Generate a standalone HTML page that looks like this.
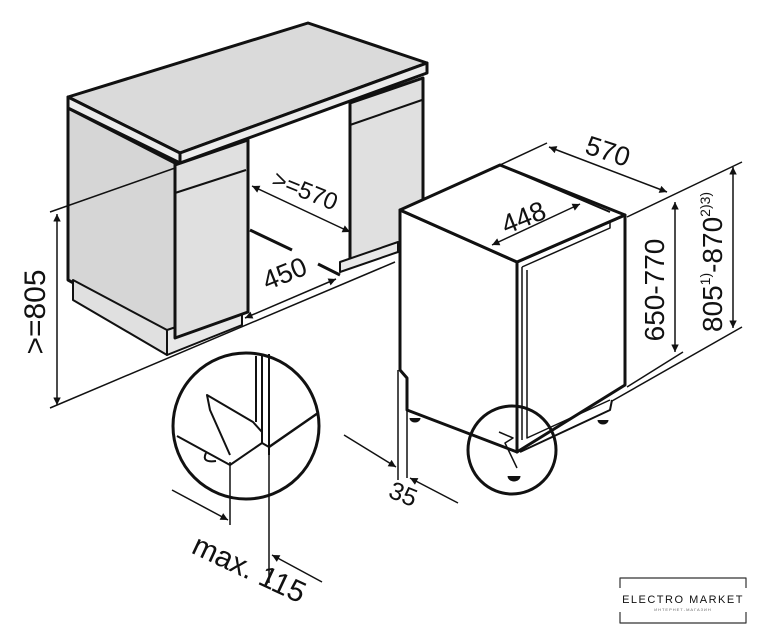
<!DOCTYPE html>
<html><head><meta charset="utf-8"><style>
html,body{margin:0;padding:0;background:#fff;}
svg{display:block}
text{font-family:"Liberation Sans",sans-serif;fill:#111}
</style></head><body>
<svg width="763" height="640" viewBox="0 0 763 640" xmlns="http://www.w3.org/2000/svg">
<defs>
<marker id="ah" viewBox="0 0 10 10" refX="10" refY="5" markerWidth="8" markerHeight="5" orient="auto-start-reverse" markerUnits="strokeWidth">
<path d="M0,0 L10,5 L0,10 z" fill="#111"/></marker>
</defs>
<g stroke="#111" stroke-linejoin="round" fill="none">
<!-- cabinet -->
<polygon points="68,108 175,163 175,338 68,280" fill="#d6d6d6" stroke-width="3"/>
<polygon points="73,280 167,330 167,355 73,300" fill="#e0e0e0" stroke-width="2"/>
<polygon points="167,330 242,305 242,325 167,355" fill="#e8e8e8" stroke-width="2"/>
<polygon points="175,165 248,140 248,312 175,338" fill="#e0e0e0" stroke-width="3"/>
<line x1="175" y1="193" x2="246" y2="170" stroke-width="2"/>
<polygon points="350,103 423,78 423,245 350,260" fill="#e0e0e0" stroke-width="3"/>
<line x1="350" y1="125" x2="422" y2="100" stroke-width="2"/>
<polygon points="340,262 398,242 398,252 340,272" fill="#e8e8e8" stroke-width="2"/>
<polygon points="68,97 308,23 427,63 180,153" fill="#dadada" stroke-width="3"/>
<polygon points="68,97 180,153 180,163 68,108" fill="#ececec" stroke-width="3"/>
<polygon points="180,153 427,63 427,73 180,163" fill="#ececec" stroke-width="3"/>
<line x1="250" y1="230" x2="292" y2="250" stroke-width="3"/>
<line x1="318" y1="264" x2="340" y2="275" stroke-width="3"/>
<!-- >=805 -->
<line x1="50" y1="212" x2="175" y2="168" stroke-width="1.5"/>
<line x1="50" y1="408" x2="395" y2="262" stroke-width="1.5"/>
<line x1="57" y1="214" x2="57" y2="405" stroke-width="1.5" marker-start="url(#ah)" marker-end="url(#ah)"/>
<!-- >=570 -->
<line x1="252" y1="186" x2="350" y2="232" stroke-width="1.5" marker-start="url(#ah)" marker-end="url(#ah)"/>
<!-- 450 -->
<line x1="245" y1="318" x2="336" y2="279" stroke-width="1.5" marker-start="url(#ah)" marker-end="url(#ah)"/>
<!-- dishwasher -->
<polygon points="400,210 517,262 517,452 407,410 407,378 400,370" fill="#fff" stroke-width="3"/>
<polygon points="517,262 625,215 625,385 517,452" fill="#fff" stroke-width="3"/>
<polygon points="400,210 500,165 625,215 517,262" fill="#fff" stroke-width="3"/>
<line x1="500" y1="165" x2="610" y2="212" stroke-width="2"/>
<polyline points="518,262 610,222 610,228 522,267" stroke-width="1.5"/>
<polyline points="522,267 522,440" stroke-width="1.5"/>
<polyline points="527,270 527,438 610,400" stroke-width="1.5"/>
<polyline points="520,452 610,410 612,400" stroke-width="2"/>
<line x1="398" y1="370" x2="398" y2="480" stroke-width="1.5"/>
<line x1="407" y1="410" x2="407" y2="478" stroke-width="1.5"/>
<path d="M410,418 a5,4 0 0 0 10,0" fill="#111" stroke-width="1"/>
<path d="M508,476 a6,5 0 0 0 12,0" fill="#111" stroke-width="1"/>
<path d="M598,420 a5,4 0 0 0 10,0" fill="#111" stroke-width="1"/>
<circle cx="512" cy="450" r="44" stroke-width="3"/>
<polyline points="499,432 513,438 505,443 517,468" stroke-width="1.5"/>
<!-- 570 -->
<line x1="500" y1="165" x2="547" y2="143" stroke-width="1.5"/>
<line x1="627" y1="217" x2="742" y2="162" stroke-width="1.5"/>
<line x1="549" y1="147" x2="667" y2="192" stroke-width="1.5" marker-start="url(#ah)" marker-end="url(#ah)"/>
<line x1="627" y1="387" x2="683" y2="352" stroke-width="1.5"/>
<line x1="612" y1="401" x2="742" y2="327" stroke-width="1.5"/>
<line x1="675" y1="202" x2="675" y2="352" stroke-width="1.5" marker-start="url(#ah)" marker-end="url(#ah)"/>
<line x1="733" y1="167" x2="733" y2="328" stroke-width="1.5" marker-start="url(#ah)" marker-end="url(#ah)"/>
<!-- 448 -->
<line x1="492" y1="245" x2="580" y2="204" stroke-width="1.5" marker-start="url(#ah)" marker-end="url(#ah)"/>
<!-- 35 -->
<line x1="344" y1="435" x2="396" y2="467" stroke-width="1.5" marker-end="url(#ah)"/>
<line x1="458" y1="503" x2="410" y2="478" stroke-width="1.5" marker-end="url(#ah)"/>
<!-- magnified circle -->
<circle cx="246" cy="426" r="73" fill="#fff" stroke-width="3"/>
<line x1="256" y1="356" x2="256" y2="422" stroke-width="2"/>
<line x1="262" y1="356" x2="262" y2="432" stroke-width="2"/>
<line x1="269" y1="354" x2="269" y2="455" stroke-width="2"/>
<polyline points="177,436 230,465 262,443 262,432 253,422 207,395 210,410 230,455" stroke-width="2"/>
<polyline points="269,447 318,413" stroke-width="2.5"/>
<polyline points="262,443 269,447" stroke-width="2"/>
<path d="M206,453 q-5,10 10,8" stroke-width="2"/>
<line x1="230" y1="462" x2="230" y2="525" stroke-width="1.5"/>
<line x1="269" y1="455" x2="269" y2="583" stroke-width="1.5"/>
<line x1="172" y1="490" x2="228" y2="520" stroke-width="1.5" marker-end="url(#ah)"/>
<line x1="322" y1="582" x2="272" y2="555" stroke-width="1.5" marker-end="url(#ah)"/>
<!-- logo -->
<polyline points="620,588 620,578 746,578 746,588" stroke="#333" stroke-width="1.2"/>
<polyline points="620,612 620,623 746,623 746,612" stroke="#333" stroke-width="1.2"/>
</g>
<text x="0" y="0" font-size="30" transform="translate(45,312) rotate(-90)" text-anchor="middle">&gt;=805</text>
<text x="0" y="0" font-size="24" transform="translate(302,198) rotate(22)" text-anchor="middle">&gt;=570</text>
<text x="0" y="0" font-size="27" transform="translate(288,282) rotate(-22)" text-anchor="middle">450</text>
<text x="0" y="0" font-size="27" transform="translate(605,160) rotate(18)" text-anchor="middle">570</text>
<text x="0" y="0" font-size="27" transform="translate(527,226) rotate(-22)" text-anchor="middle">448</text>
<text x="0" y="0" font-size="28" transform="translate(664,290) rotate(-90)" text-anchor="middle">650-770</text>
<text x="0" y="0" font-size="28" transform="translate(722,262) rotate(-90)" text-anchor="middle">805<tspan font-size="14" dy="-12">1)</tspan><tspan dy="12">-870</tspan><tspan font-size="14" dy="-12">2)3)</tspan></text>
<text x="0" y="0" font-size="25" transform="translate(400,502) rotate(22)" text-anchor="middle">35</text>
<text x="0" y="0" font-size="30" transform="translate(245,578) rotate(25)" text-anchor="middle">max. 115</text>
<text x="683" y="603" font-size="11" letter-spacing="1.5" text-anchor="middle">ELECTRO MARKET</text>
<text x="683" y="611" font-size="4" letter-spacing="1" text-anchor="middle" style="fill:#666">ИНТЕРНЕТ-МАГАЗИН</text>
</svg>
</body></html>
